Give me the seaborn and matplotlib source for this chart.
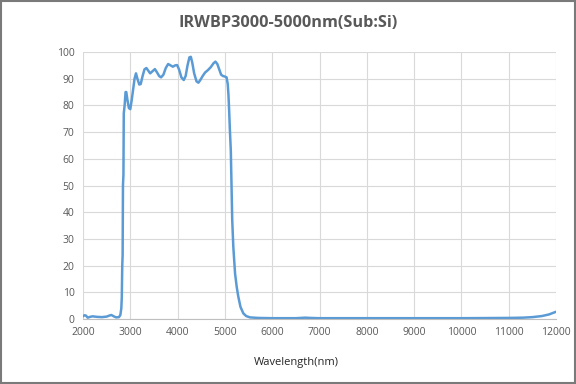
import matplotlib
matplotlib.use("Agg")
import matplotlib.pyplot as plt
import seaborn as sns
import pandas as pd
from matplotlib.patches import Rectangle

wavelength = [2000, 2030, 2060, 2100, 2150, 2200, 2300, 2400, 2500, 2560, 2600, 2650, 2700, 2760,
              2790, 2810, 2820, 2830, 2838, 2845, 2855, 2862, 2880, 2900, 2915, 2940, 2970, 3000,
              3030, 3060, 3090, 3120, 3150, 3190, 3220, 3260, 3300, 3340, 3380, 3420, 3470, 3520,
              3560, 3610, 3650, 3700, 3750, 3800, 3850, 3900, 3950, 3990, 4030, 4080, 4130, 4170,
              4210, 4250, 4280, 4310, 4350, 4400, 4440, 4480, 4530, 4580, 4640, 4700, 4760, 4800,
              4840, 4880, 4920, 4960, 5000, 5035, 5060, 5075, 5090, 5105, 5125, 5140, 5155, 5178,
              5215, 5250, 5283, 5330, 5390, 5450, 5530, 5700, 6000, 6500, 6700, 6800, 7000, 8000,
              9000, 10000, 11000, 11300, 11500, 11700, 11850, 12000]
transmission = [1.0, 1.4, 1.3, 0.5, 0.8, 1.0, 0.8, 0.7, 0.9, 1.3, 1.5, 1.0, 0.6, 0.7,
                1.5, 4, 8, 20, 24, 50, 54, 77, 80, 85, 85, 82, 79, 78.6,
                82, 86, 90, 92, 90, 87.8, 88, 91, 93.5, 94, 93, 92, 92.8, 93.6,
                92.5, 91, 90.5, 91.5, 94, 95.5, 95, 94.5, 95, 95.1, 93.5, 90.5, 89.5, 91,
                95, 98, 98.2, 96, 92, 89, 88.5, 89.5, 91, 92.3, 93.2, 94.3, 95.8, 96.4,
                95.5, 93.5, 91.5, 91, 90.8, 90.5, 88, 84, 78, 71, 63, 50, 37, 27,
                17, 12, 8.4, 4.5, 2.1, 1.1, 0.6, 0.4, 0.3, 0.3, 0.5, 0.4, 0.3, 0.3,
                0.3, 0.3, 0.4, 0.5, 0.7, 1.1, 1.7, 2.7]
x_ticks = list(range(2000, 12001, 1000))
y_ticks = list(range(0, 101, 10))
title = "IRWBP3000-5000nm(Sub:Si)"
x_label = "Wavelength(nm)"

df = pd.DataFrame({"wl": wavelength, "T": transmission})

sns.set_style("white")
plt.rcParams["font.family"] = ["Open Sans", "DejaVu Sans"]

fig = plt.figure(figsize=(5.76, 3.84), dpi=100)
ax = fig.add_axes([83/576, 1-319/384, (556-83)/576, (319-52)/384])

sns.lineplot(data=df, x="wl", y="T", ax=ax, color="#5b9bd5", linewidth=1.8)

ax.set_xlim(2000, 12000)
ax.set_ylim(0, 100)
ax.set_xticks(x_ticks)
ax.set_yticks(y_ticks)
ax.grid(True, color="#d9d9d9", linewidth=0.8)
ax.set_axisbelow(True)
for s in ["left", "top", "right"]:
    ax.spines[s].set_visible(False)
ax.spines["bottom"].set_color("#bfbfbf")
ax.spines["bottom"].set_linewidth(0.8)
ax.tick_params(axis="both", length=0, labelsize=7.5, colors="#595959", pad=6)
ax.set_xlabel("")
ax.set_ylabel("")

fig.text(288/576, 1-23/384, title, ha="center", va="center", fontsize=11.7,
         fontweight="bold", color="#595959")
fig.text(296/576, 1-363/384, x_label, ha="center", va="center", fontsize=8,
         color="#262626")

fig.patches.append(Rectangle((0.001, 0.002), 0.997, 0.995, transform=fig.transFigure,
                             fill=False, edgecolor="#7a7a7a", linewidth=1.5))

fig.savefig("out.png", dpi=100)
